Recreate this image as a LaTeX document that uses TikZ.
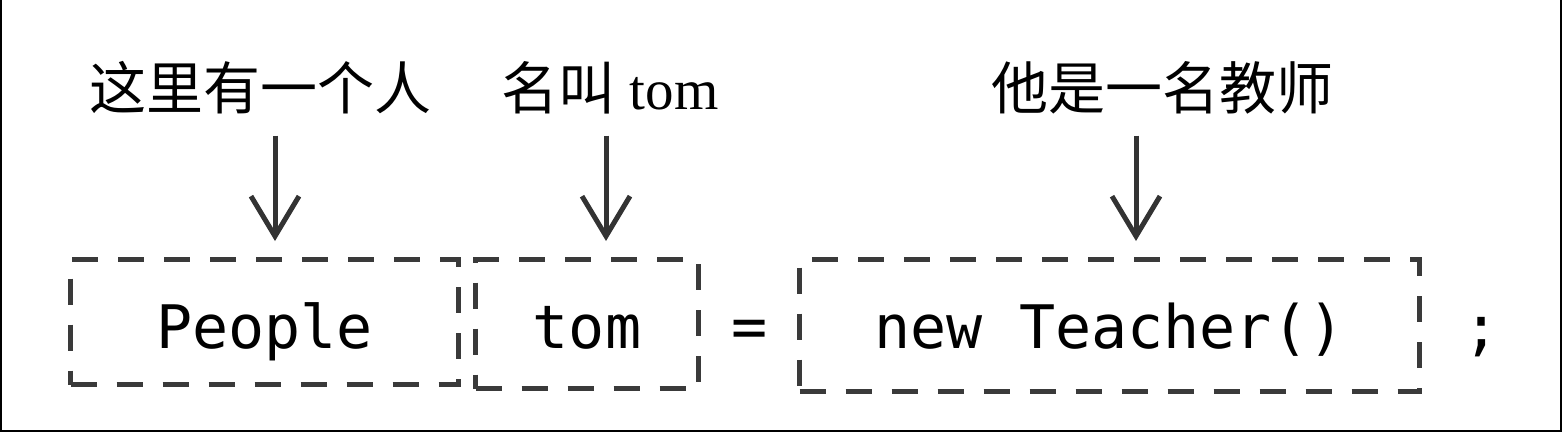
\documentclass[tikz,border=0pt]{standalone}
\usepackage{fontspec}
\setmainfont{Liberation Serif}
\setmonofont{DejaVu Sans Mono}
\newfontfamily\cjk{Noto Sans CJK SC}
\usetikzlibrary{arrows.meta}
\definecolor{boxgray}{HTML}{3A3A3A}
\definecolor{arrgray}{HTML}{333333}
\tikzset{
  lab/.style={inner sep=0pt, outer sep=0pt, anchor=base, font=\fontsize{57}{60}\selectfont},
  codebox/.style={draw=boxgray, line width=5pt, dash pattern=on 26pt off 20pt,
    inner sep=0pt, font=\ttfamily\fontsize{60}{64}\selectfont},
  sym/.style={inner sep=0pt, font=\ttfamily\fontsize{60}{64}\selectfont},
  arr/.style={draw=arrgray, line width=5pt, -{Straight Barb[length=40pt,width=48pt]},
    shorten <=22pt, shorten >=16pt},
  frame/.style={draw=black, line width=2pt}
}
\begin{document}
\begin{tikzpicture}[x=1pt,y=-1pt]
\useasboundingbox (0,0) rectangle (1563,432);
\draw[frame] (1,0) -- (1,430.5) -- (1561,430.5) -- (1561,0);

% labels
\node[lab] (lab1) at (260,109) {\cjk 这里有一个人};
\node[lab] (lab2) at (610,109) {{\cjk 名叫} tom};
\node[lab] (lab3) at (1162.5,109) {\cjk 他是一名教师};

% boxes
\node[codebox, minimum width=388pt, minimum height=125pt, text height=52pt, text depth=0pt]
  (box1) at (264.5,322) {People};
\node[codebox, minimum width=223pt, minimum height=129pt, text height=48pt, text depth=0pt]
  (box2) at (587,324) {tom};
\node[codebox, minimum width=620pt, minimum height=132pt, text height=45pt, text depth=0pt]
  (box3) at (1109.5,325.5) {new Teacher()};

\node[sym, anchor=center] (eq) at (750,334) {=};
\node[sym, anchor=base] (semi) at (1482,348) {;};

% arrow columns
\coordinate (ax1) at (275,0);
\coordinate (ax2) at (606,0);
\coordinate (ax3) at (1136,0);
\draw[arr] (lab1.south -| ax1) -- (box1.north -| ax1);
\draw[arr] (lab2.south -| ax2) -- (box2.north -| ax2);
\draw[arr] (lab3.south -| ax3) -- (box3.north -| ax3);
\end{tikzpicture}
\end{document}
